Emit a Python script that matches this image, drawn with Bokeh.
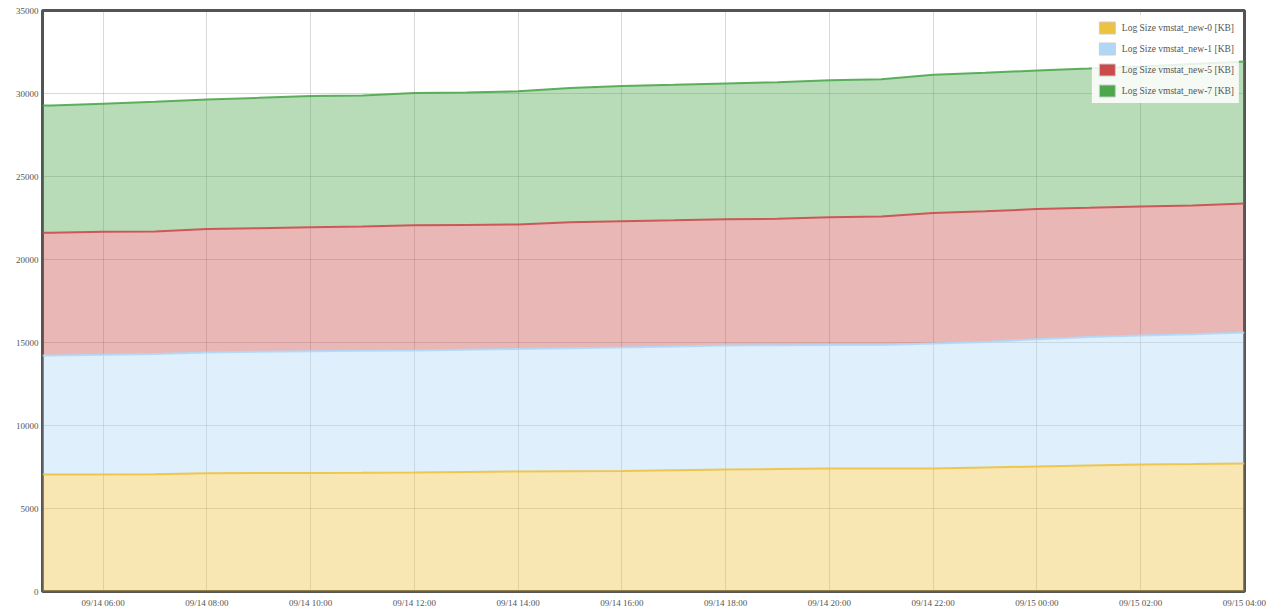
import pandas as pd
from bokeh.plotting import figure
from bokeh.models import (ColumnDataSource, Range1d, FixedTicker, DatetimeTickFormatter,
                          Legend, LegendItem, BasicTickFormatter)
from bokeh.embed import file_html
from bokeh.resources import INLINE

# ---------------- data ----------------
times = ["2014-09-14 04:50", "2014-09-14 05:00", "2014-09-14 06:00", "2014-09-14 07:00",
         "2014-09-14 08:00", "2014-09-14 09:00", "2014-09-14 10:00", "2014-09-14 11:00",
         "2014-09-14 12:00", "2014-09-14 13:00", "2014-09-14 14:00", "2014-09-14 15:00",
         "2014-09-14 16:00", "2014-09-14 17:00", "2014-09-14 18:00", "2014-09-14 19:00",
         "2014-09-14 20:00", "2014-09-14 21:00", "2014-09-14 22:00", "2014-09-14 23:00",
         "2014-09-15 00:00", "2014-09-15 01:00", "2014-09-15 02:00", "2014-09-15 03:00",
         "2014-09-15 04:00"]

series_names = ["Log Size vmstat_new-0 [KB]", "Log Size vmstat_new-1 [KB]",
                "Log Size vmstat_new-5 [KB]", "Log Size vmstat_new-7 [KB]"]

new0 = [7048, 7048, 7048, 7060, 7127, 7135, 7139, 7150, 7169, 7200, 7229, 7245, 7259,
        7300, 7349, 7380, 7410, 7410, 7410, 7470, 7530, 7590, 7651, 7680, 7711]
new1 = [7170, 7170, 7210, 7240, 7270, 7305, 7335, 7350, 7350, 7360, 7380, 7415, 7440,
        7460, 7470, 7455, 7440, 7445, 7530, 7560, 7670, 7740, 7770, 7820, 7890]
new5 = [7390, 7390, 7410, 7390, 7435, 7440, 7470, 7490, 7550, 7525, 7500, 7590, 7610,
        7600, 7610, 7615, 7700, 7735, 7860, 7870, 7840, 7780, 7770, 7750, 7770]
new7 = [7670, 7670, 7720, 7810, 7810, 7860, 7905, 7890, 7965, 7975, 8030, 8080, 8145,
        8160, 8175, 8230, 8250, 8270, 8325, 8350, 8345, 8390, 8435, 8530, 8555]

tick_times = ["2014-09-14 06:00", "2014-09-14 08:00", "2014-09-14 10:00", "2014-09-14 12:00",
              "2014-09-14 14:00", "2014-09-14 16:00", "2014-09-14 18:00", "2014-09-14 20:00",
              "2014-09-14 22:00", "2014-09-15 00:00", "2014-09-15 02:00", "2014-09-15 04:00"]
y_ticks = [0, 5000, 10000, 15000, 20000, 25000, 30000, 35000]

colors = ["#edc240", "#afd8f8", "#cb4b4b", "#4da74d"]

# ---------------- plot ----------------
t = pd.to_datetime(times)
src = ColumnDataSource(dict(t=t, s0=new0, s1=new1, s5=new5, s7=new7))
stackers = ["s0", "s1", "s5", "s7"]

p = figure(width=1270, height=614, x_axis_type="datetime",
           output_backend="svg", toolbar_location=None,
           min_border_left=42, min_border_right=26, min_border_top=10, min_border_bottom=23,
           x_range=Range1d(t[0], t[-1]), y_range=Range1d(0, 35000))

p.background_fill_color = "white"
p.border_fill_color = "white"
p.outline_line_color = "#545454"
p.outline_line_width = 3

p.varea_stack(stackers, x="t", source=src, color=colors, fill_alpha=0.4)
p.vline_stack(stackers, x="t", source=src, color=colors, line_width=2, line_alpha=0.9)

tick_ms = [pd.Timestamp(s).value / 1e6 for s in tick_times]
p.xaxis.ticker = FixedTicker(ticks=tick_ms)
fmt = "%m/%d %H:%M"
p.xaxis.formatter = DatetimeTickFormatter(microseconds=fmt, milliseconds=fmt, seconds=fmt,
                                          minsec=fmt, minutes=fmt, hourmin=fmt, hours=fmt,
                                          days=fmt, months=fmt, years=fmt)
p.yaxis.ticker = FixedTicker(ticks=y_ticks)
p.yaxis.formatter = BasicTickFormatter(use_scientific=False)

for ax in (p.xaxis, p.yaxis):
    ax.axis_line_color = None
    ax.major_tick_line_color = None
    ax.minor_tick_line_color = None
    ax.major_tick_out = 0
    ax.major_tick_in = 0
    ax.major_label_text_font = "Liberation Serif"
    ax.major_label_text_font_size = "9px"
    ax.major_label_text_color = "#545454"
p.xaxis.major_label_standoff = 6
p.yaxis.major_label_standoff = 4

p.xgrid.ticker = FixedTicker(ticks=tick_ms)
p.ygrid.ticker = FixedTicker(ticks=y_ticks)
for g in (p.xgrid, p.ygrid):
    g.grid_line_color = "#545454"
    g.grid_line_alpha = 0.22
    g.grid_line_width = 1

# legend-only swatches (no visible marks in the plot area)
nan = float("nan")
items = []
for name, c in zip(series_names, colors):
    r = p.quad(left=[nan], right=[nan], top=[nan], bottom=[nan], fill_color=c,
               line_color="#cccccc", line_width=1)
    items.append(LegendItem(label=name, renderers=[r]))

legend = Legend(items=items, location="top_right")
legend.margin = 5
legend.padding = 5
legend.spacing = 6
legend.label_height = 12
legend.glyph_height = 15
legend.glyph_width = 20
legend.label_standoff = 5
legend.label_text_font = "Liberation Serif"
legend.label_text_font_size = "9.5px"
legend.label_text_color = "#545454"
legend.background_fill_color = "white"
legend.background_fill_alpha = 0.85
legend.border_line_alpha = 0
p.add_layout(legend)

open("out.html", "w").write(file_html(p, INLINE))
